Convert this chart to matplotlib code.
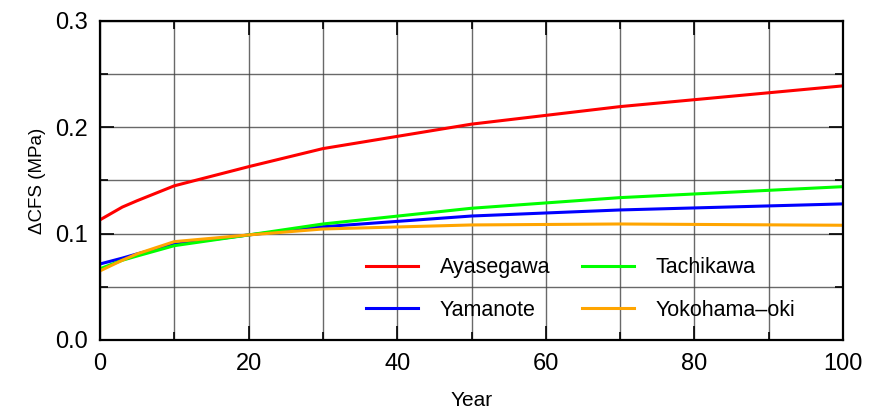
import numpy as np
import matplotlib.pyplot as plt
from matplotlib.ticker import MultipleLocator

plt.rcParams['font.family'] = ['Liberation Sans', 'DejaVu Sans']

years = [0, 3, 5, 10, 20, 30, 50, 70, 100]
ayasegawa = [0.113, 0.125, 0.131, 0.145, 0.163, 0.180, 0.203, 0.2195, 0.239]
tachikawa = [0.067, 0.075, 0.079, 0.0887, 0.0988, 0.1091, 0.1239, 0.1339, 0.1442]
yamanote = [0.0715, 0.077, 0.081, 0.090, 0.0988, 0.1065, 0.1166, 0.1223, 0.128]
yokohama = [0.065, 0.075, 0.081, 0.0925, 0.0988, 0.1044, 0.1082, 0.1091, 0.1079]

fig = plt.figure(figsize=(8.69, 4.18), dpi=100)
ax = fig.add_axes([100 / 869, 1 - 340 / 418, 743 / 869, 319 / 418])

ax.plot(years, ayasegawa, color='#ff0000', lw=2.2, label='Ayasegawa')
ax.plot(years, yamanote, color='#0000ff', lw=2.2, label='Yamanote')
ax.plot(years, tachikawa, color='#00ff00', lw=2.2, label='Tachikawa')
ax.plot(years, yokohama, color='#ffa500', lw=2.2, label='Yokohama\u2013oki')

ax.set_xlim(0, 100)
ax.set_ylim(0, 0.3)
ax.xaxis.set_major_locator(MultipleLocator(20))
ax.xaxis.set_minor_locator(MultipleLocator(10))
ax.yaxis.set_major_locator(MultipleLocator(0.1))
ax.yaxis.set_minor_locator(MultipleLocator(0.05))
ax.set_yticklabels(['%.1f' % v for v in ax.get_yticks()])
ax.grid(True, which='both', color='#444444', lw=1.0, alpha=0.8)
ax.tick_params(which='both', direction='in', top=True, right=True,
               labelsize=17, width=1.2, color='black')
ax.tick_params(which='major', length=10, pad=9)
ax.tick_params(which='minor', length=6)
for s in ax.spines.values():
    s.set_linewidth(1.6)

ax.set_xlabel('Year', fontsize=15, labelpad=12)
ax.set_ylabel('\u0394CFS (MPa)', fontsize=13.5, labelpad=6)

ax.legend(ncol=2, loc='lower right', bbox_to_anchor=(0.962, 0.0), frameon=False,
          fontsize=15.5, handlelength=2.4, handletextpad=1.0, columnspacing=1.5,
          labelspacing=1.0)

fig.savefig('out.png', dpi=100)
